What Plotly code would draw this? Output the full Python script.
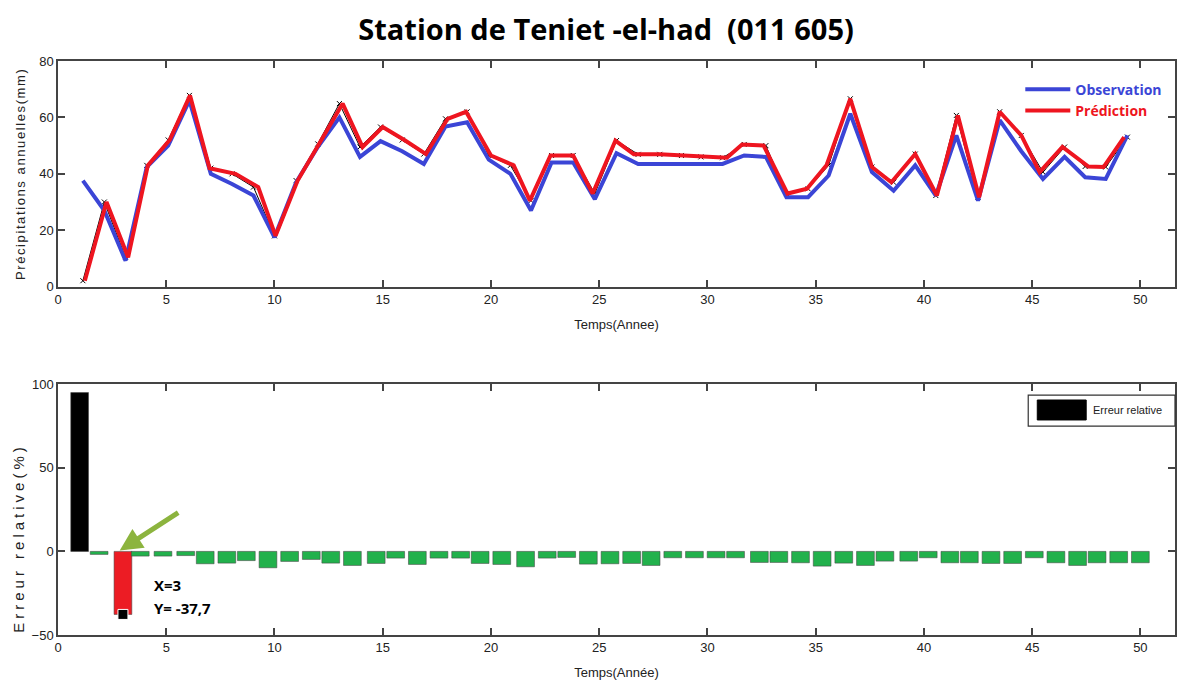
import plotly.graph_objects as go
from plotly.subplots import make_subplots

# Annual precipitation: observed vs predicted (x = time position, y = mm)
obs_x = [1.15, 2.14, 3.12, 4.1, 5.09, 6.07, 7.06, 8.04, 9.03, 10.0,
         11.0, 12.0, 13.0, 13.95, 14.9, 15.9, 16.9, 17.9, 18.9, 19.9,
         20.9, 21.85, 22.8, 23.8, 24.8, 25.8, 26.8, 27.8, 28.8, 29.7,
         30.7, 31.7, 32.7, 33.65, 34.65, 35.6, 36.6, 37.6, 38.6, 39.6,
         40.55, 41.5, 42.5, 43.5, 44.5, 45.5, 46.5, 47.45, 48.4, 49.4]
observation = [37.6, 27, 9.2, 42.4, 50, 66, 40, 36.4, 32.3, 17.5,
               37, 49.5, 60, 46, 51.6, 48, 43.5, 56.8, 58.3, 45,
               40, 27, 44, 44, 31, 47.3, 43.5, 43.5, 43.5, 43.5,
               43.5, 46.5, 46, 31.7, 31.7, 39.4, 61.3, 40.6, 34, 43,
               32.3, 53.6, 30.5, 59, 48, 38.2, 46, 38.8, 38.2, 53.6]

pred_x = [1.24, 2.24, 3.24, 4.15, 5.16, 6.1, 7.0, 8.2, 9.25, 10.05,
          11.07, 12.07, 13.15, 14.07, 15.0, 16.0, 17.0, 18.0, 18.85, 20.0,
          21.05, 21.8, 22.75, 23.8, 24.7, 25.75, 26.6, 27.8, 28.8, 29.8,
          30.9, 31.6, 32.6, 33.7, 34.6, 35.5, 36.6, 37.6, 38.5, 39.6,
          40.6, 41.57, 42.55, 43.5, 44.5, 45.35, 46.4, 47.6, 48.3, 49.25]
prediction = [2.1, 30, 10.4, 43, 52, 67.8, 42, 40, 35.3, 18,
              37.6, 50.6, 64.9, 49.5, 56.6, 52, 47, 59.5, 62, 46.5,
              43, 30.5, 46.5, 46.5, 33, 51.8, 46.9, 46.9, 46.5, 46,
              45.7, 50.4, 50, 33, 34.7, 43, 66.6, 42.4, 37, 47,
              32.3, 60.7, 31.7, 62, 53.6, 40.6, 49.5, 42.6, 42.4, 53]

# Relative error (%) per year
err_x = [1, 1.9, 3, 3.8, 4.85, 5.9, 6.8, 7.8, 8.7, 9.7,
         10.7, 11.7, 12.6, 13.6, 14.7, 15.6, 16.6, 17.6, 18.6, 19.5,
         20.5, 21.6, 22.6, 23.5, 24.5, 25.5, 26.5, 27.4, 28.4, 29.4,
         30.4, 31.3, 32.4, 33.3, 34.3, 35.3, 36.3, 37.3, 38.2, 39.3,
         40.2, 41.2, 42.1, 43.1, 44.1, 45.1, 46.1, 47.1, 48.0, 49.0, 50.0]
erreur = [95, -1.8, -37.7, -2.8, -2.8, -2.5, -7.4, -7.0, -5.5, -9.8,
          -6.0, -4.8, -7.0, -8.4, -7.2, -4.0, -7.8, -4.0, -4.0, -7.2,
          -7.8, -9.2, -4.0, -3.6, -7.6, -7.4, -7.2, -8.4, -3.8, -3.8,
          -3.8, -3.8, -6.6, -6.6, -6.8, -8.8, -7.0, -8.4, -5.8, -5.8,
          -3.8, -6.8, -6.8, -7.2, -7.2, -3.8, -6.8, -8.4, -6.8, -6.8, -6.8]

# Data cursor on the highlighted bar
curseur_x = 3
curseur_y = -37.7

x_ticks = [0, 5, 10, 15, 20, 25, 30, 35, 40, 45, 50]
y1_ticks = [0, 20, 40, 60, 80]
y2_ticks = [-50, 0, 50, 100]

BLUE = "#3b45d6"
RED = "#ee1520"
GREEN = "#22b14c"
ARROW = "#8cb43e"
FRAME = "#444444"
TICKFONT = "Liberation Sans Narrow, Arial Narrow, Liberation Sans, Arial"
BOLDFONT = "Open Sans, Lato, Arial"

fig = make_subplots(rows=2, cols=1, vertical_spacing=0.17,
                    row_heights=[0.4736, 0.5264])

# thin black marker line under the prediction curve
fig.add_trace(go.Scatter(x=obs_x, y=prediction, mode="lines+markers",
                         line=dict(color="black", width=1),
                         marker=dict(symbol="x-thin", size=5,
                                     line=dict(color="black", width=1)),
                         showlegend=False, hoverinfo="skip"), row=1, col=1)
fig.add_trace(go.Scatter(x=obs_x, y=observation, mode="lines",
                         line=dict(color=BLUE, width=4),
                         name=f'<span style="color:{BLUE}">Observation</span>'),
              row=1, col=1)
fig.add_trace(go.Scatter(x=pred_x, y=prediction, mode="lines",
                         line=dict(color=RED, width=4),
                         name=f'<span style="color:{RED}">Prédiction</span>'),
              row=1, col=1)

bar_colors = []
for xv in err_x:
    if xv == err_x[0]:
        bar_colors.append("black")
    elif xv == curseur_x:
        bar_colors.append("#ec1c24")
    else:
        bar_colors.append(GREEN)

fig.add_trace(go.Bar(x=err_x, y=erreur, width=0.82,
                     marker=dict(color=bar_colors,
                                 line=dict(color="rgba(70,70,70,0.55)", width=1)),
                     showlegend=False, name="Erreur relative"), row=2, col=1)
fig.add_trace(go.Scatter(x=[curseur_x], y=[curseur_y], mode="markers",
                         marker=dict(symbol="square", size=10, color="black",
                                     line=dict(color="white", width=1)),
                         showlegend=False, hoverinfo="skip"), row=2, col=1)

axis_common = dict(showline=True, linecolor=FRAME, linewidth=1.5, mirror="ticks",
                   ticks="inside", ticklen=7, tickcolor=FRAME, tickwidth=1.5,
                   showgrid=False, zeroline=False,
                   tickfont=dict(family=TICKFONT, size=13, color="#222222"))

fig.update_xaxes(range=[0, 51.6], tickvals=x_ticks, **axis_common)
fig.update_yaxes(**axis_common)

fig.update_xaxes(title=dict(text="Temps(Annee)", standoff=14,
                            font=dict(family=TICKFONT, size=13, color="#222222")),
                 row=1, col=1)
fig.update_xaxes(title=dict(text="Temps(Année)", standoff=14,
                            font=dict(family=TICKFONT, size=13, color="#222222")),
                 row=2, col=1)
fig.update_yaxes(range=[0, 80], tickvals=y1_ticks,
                 title=dict(text='<span style="letter-spacing:1.6px">Précipitations annuelles(mm)</span>',
                            standoff=11,
                            font=dict(family=TICKFONT, size=13, color="#222222")),
                 row=1, col=1)
fig.update_yaxes(range=[-50, 100], tickvals=y2_ticks, row=2, col=1)

# y title of the error panel, sitting slightly low
fig.add_annotation(xref="paper", yref="paper", x=-0.0355, y=0.17,
                   xanchor="center", yanchor="middle", showarrow=False, textangle=-90,
                   text='<span style="letter-spacing:4px">Erreur relative(%)</span>',
                   font=dict(family=TICKFONT, size=15, color="#222222"))

# legend box for the error panel
fig.add_shape(type="rect", xref="paper", yref="paper",
              x0=0.8686, x1=1.0, y0=0.364, y1=0.418,
              line=dict(color="#333333", width=1.2), fillcolor="white", layer="above")
fig.add_shape(type="rect", xref="paper", yref="paper",
              x0=0.8767, x1=0.9205, y0=0.3746, y1=0.4094,
              line=dict(color="black", width=1), fillcolor="black", layer="above")
fig.add_annotation(xref="paper", yref="paper", x=0.9249, y=0.392,
                   xanchor="left", yanchor="middle", showarrow=False,
                   text="Erreur relative",
                   font=dict(family=TICKFONT, size=11, color="#222222"))

# cursor read-out and pointer arrow
fig.add_annotation(xref="x2", yref="y2", x=4.35, y=-20.2, xanchor="left",
                   yanchor="middle", showarrow=False, text=f"X={curseur_x}",
                   font=dict(family=BOLDFONT, size=15, color="black", weight="bold"))
fig.add_annotation(xref="x2", yref="y2", x=4.35, y=-33.8, xanchor="left",
                   yanchor="middle", showarrow=False,
                   text="Y= " + f"{curseur_y}".replace(".", ","),
                   font=dict(family=BOLDFONT, size=15, color="black", weight="bold"))
fig.add_annotation(xref="x2", yref="y2", x=2.85, y=0.5, ax=60, ay=-39,
                   showarrow=True, arrowhead=2, arrowsize=0.9, arrowwidth=5,
                   arrowcolor=ARROW, text="")

fig.update_layout(
    width=1180, height=681,
    margin=dict(l=58, r=3, t=61, b=46),
    paper_bgcolor="white", plot_bgcolor="white",
    title=dict(text="Station de Teniet -el-had\u00a0 (011 605)",
               x=0.5136, xanchor="center", y=0.956, yanchor="middle",
               font=dict(family=BOLDFONT, size=29, color="black", weight="bold")),
    legend=dict(x=0.8615, y=0.978, xanchor="left", yanchor="top",
                bgcolor="rgba(0,0,0,0)", borderwidth=0, itemwidth=45,
                tracegroupgap=2,
                font=dict(family=BOLDFONT, size=14, weight="bold")),
    bargap=0.1,
)

fig.write_html("out.html")
